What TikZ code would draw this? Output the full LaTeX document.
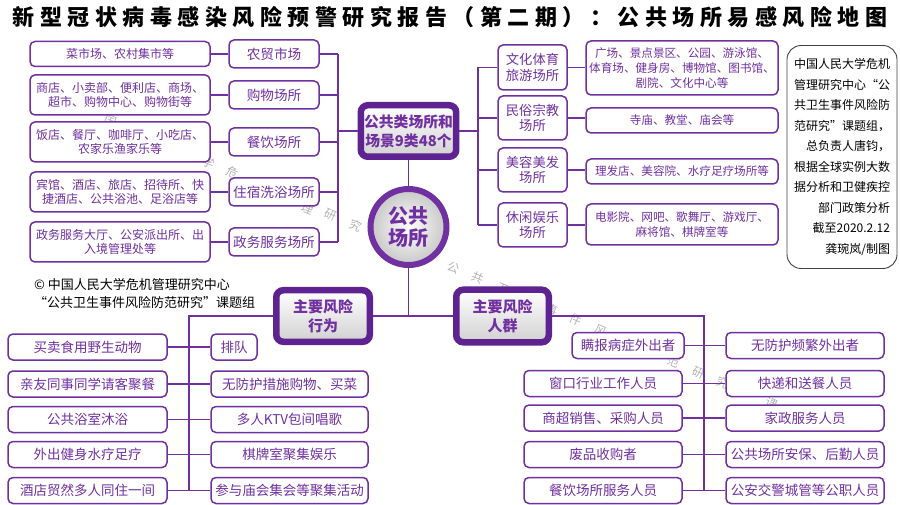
\documentclass[tikz,border=0pt]{standalone}
\usepackage{fontspec}
\setmainfont{Noto Sans CJK SC}
\newfontfamily\titlefont{Noto Sans CJK SC}[LetterSpace=25]
\usetikzlibrary{shadows}
\usetikzlibrary{backgrounds}
\definecolor{purp}{HTML}{7030A0}
\definecolor{purpdark}{HTML}{5E2390}

\begin{document}
\begin{tikzpicture}[x=1pt,y=-1pt,
	box/.style={draw=purp, line width=1.5pt, rounded corners=5pt, fill=white, text=purp, inner sep=1pt, align=center},
	detail/.style={box, font=\fontsize{12}{14.5}\selectfont},
	detailr/.style={box, font=\fontsize{11.6}{15}\selectfont},
	place/.style={box, font=\fontsize{13.6}{15.5}\selectfont},
	risk/.style={box, font=\fontsize{13.5}{15}\selectfont, minimum height=26},
	hubbox/.style={draw=purpdark, line width=6.5pt, rounded corners=7pt, top color=white, bottom color=black!18,
		text=purp, align=center, drop shadow={shadow xshift=2pt, shadow yshift=-2.5pt, opacity=0.35}},
	link/.style={purp, line width=1.5pt},
	wmark/.style={text=black!30, font=\fontsize{12}{12}\selectfont, rotate=-23, inner sep=0pt}
]
\useasboundingbox (0,0) rectangle (900,505);

\node (title) at (450,17.5) {\titlefont\bfseries\fontsize{22}{22}\selectfont 新型冠状病毒感染风险预警研究报告（第二期）：公共场所易感风险地图};

% upper left
\node[detail, minimum width=180, minimum height=25] (d1) at (120,54) {菜市场、农村集市等};
\node[detail, minimum width=180, minimum height=40] (d2) at (120,95) {商店、小卖部、便利店、商场、\\超市、购物中心、购物街等};
\node[detail, minimum width=180, minimum height=40] (d3) at (120,142) {饭店、餐厅、咖啡厅、小吃店、\\农家乐渔家乐等};
\node[detail, minimum width=180, minimum height=40] (d4) at (120,192) {宾馆、酒店、旅店、招待所、快\\捷酒店、公共浴池、足浴店等};
\node[detail, minimum width=180, minimum height=40] (d5) at (120,242) {政务服务大厅、公安派出所、出\\入境管理处等};
\node[place, minimum width=90, minimum height=28] (c1) at (274,54) {农贸市场};
\node[place, minimum width=90, minimum height=28] (c2) at (274,95) {购物场所};
\node[place, minimum width=90, minimum height=28] (c3) at (274,142) {餐饮场所};
\node[place, minimum width=90, minimum height=28] (c4) at (274,192) {住宿洗浴场所};
\node[place, minimum width=90, minimum height=28] (c5) at (274,242) {政务服务场所};

% centre
\node[hubbox, minimum width=94.5, minimum height=51.5, font=\bfseries\fontsize{14.8}{19}\selectfont] (hub) at (408.5,131) {公共类场所和\\场景9类48个};
\node[circle, draw=purp, line width=6pt, minimum size=76, inner color=white, outer color=black!22, text=purp, align=center,
	font=\bfseries\fontsize{20}{22}\selectfont, drop shadow={shadow xshift=2pt, shadow yshift=-2.5pt, opacity=0.3}] (circ) at (408.5,227) {公共\\场所};
\node[hubbox, minimum width=93.5, minimum height=51.5, font=\bfseries\fontsize{15}{19}\selectfont] (beh) at (323,316) {主要风险\\行为};
\node[hubbox, minimum width=92.5, minimum height=52.5, font=\bfseries\fontsize{15}{19}\selectfont] (grp) at (502.5,316) {主要风险\\人群};

% upper right
\node[place, font=\fontsize{13.3}{15.5}\selectfont, minimum width=69, minimum height=45] (c6) at (532.5,67.5) {文化体育\\旅游场所};
\node[place, font=\fontsize{13.3}{15.5}\selectfont, minimum width=69, minimum height=44] (c7) at (532.5,118) {民俗宗教\\场所};
\node[place, font=\fontsize{13.3}{15.5}\selectfont, minimum width=69, minimum height=44] (c8) at (532.5,170) {美容美发\\场所};
\node[place, font=\fontsize{13.3}{15.5}\selectfont, minimum width=69, minimum height=44] (c9) at (532.5,225) {休闲娱乐\\场所};
\node[detailr, minimum width=192, minimum height=54] (d6) at (682,68) {广场、景点景区、公园、游泳馆、\\体育场、健身房、博物馆、图书馆、\\剧院、文化中心等};
\node[detailr, minimum width=192, minimum height=25] (d7) at (682,120.5) {寺庙、教堂、庙会等};
\node[detailr, minimum width=192, minimum height=25] (d8) at (682,171.5) {理发店、美容院、水疗足疗场所等};
\node[detailr, minimum width=192, minimum height=41] (d9) at (682,224.5) {电影院、网吧、歌舞厅、游戏厅、\\麻将馆、棋牌室等};

% note
\node[draw=black!75, line width=0.9pt, rounded corners=14pt, minimum width=110, minimum height=223, text width=96, inner xsep=7pt,
	align=right, font=\fontsize{12}{20.5}\selectfont] (note) at (842,157)
	{中国人民大学危机\\管理研究中心“公\\共卫生事件风险防\\范研究”课题组，\\总负责人唐钧，\\根据全球实例大数\\据分析和卫健疾控\\部门政策分析\\截至2020.2.12\\龚琬岚/制图};

\node[anchor=west, align=left, font=\fontsize{13}{18}\selectfont, inner sep=0pt] (copy) at (34,294)
	{© 中国人民大学危机管理研究中心\\“公共卫生事件风险防范研究”课题组};

% main risk behaviours
\node[risk, minimum width=159] (l1) at (87.5,347) {买卖食用野生动物};
\node[risk, minimum width=159] (l2) at (87.5,384) {亲友同事同学请客聚餐};
\node[risk, minimum width=159] (l3) at (87.5,419.5) {公共浴室沐浴};
\node[risk, minimum width=159] (l4) at (87.5,454.5) {外出健身水疗足疗};
\node[risk, minimum width=159] (l5) at (87.5,490.5) {酒店贸然多人同住一间};
\node[risk, minimum width=46] (r1) at (234,347) {排队};
\node[risk, minimum width=157] (r2) at (289.5,384) {无防护措施购物、买菜};
\node[risk, minimum width=157] (r3) at (289.5,419.5) {多人KTV包间唱歌};
\node[risk, minimum width=157] (r4) at (289.5,454.5) {棋牌室聚集娱乐};
\node[risk, minimum width=157] (r5) at (289.5,490.5) {参与庙会集会等聚集活动};

% main risk groups
\node[risk, minimum width=112] (m1) at (628,345.5) {瞒报病症外出者};
\node[risk, minimum width=158] (m2) at (603,383.5) {窗口行业工作人员};
\node[risk, minimum width=158] (m3) at (603,418) {商超销售、采购人员};
\node[risk, minimum width=158] (m4) at (603,454.5) {废品收购者};
\node[risk, minimum width=158] (m5) at (603,490.5) {餐饮场所服务人员};
\node[risk, minimum width=158] (n1) at (805,345.5) {无防护频繁外出者};
\node[risk, minimum width=158] (n2) at (805,383.5) {快递和送餐人员};
\node[risk, minimum width=158] (n3) at (805,418) {家政服务人员};
\node[risk, minimum width=158] (n4) at (805,454.5) {公共场所安保、后勤人员};
\node[risk, minimum width=158] (n5) at (805,490.5) {公安交警城管等公职人员};

\coordinate (sL) at (338,0);
\coordinate (sR) at (478,0);
\coordinate (sB) at (189,0);
\coordinate (sG) at (704,0);

% watermark, only the characters left visible between the boxes
\begin{scope}[on background layer]
	\foreach \ch/\k in {国/1,学/5,危/6,研/10,究/11,公/15,共/16,卫/17,事/19,件/20,风/21,范/24,研/25,究/26,课/28}
		\node[wmark] (wm\k) at (86+24.5*\k,110+10.5*\k) {\ch};
	\node[wmark] (wm9) at (308,208.5) {理};
\end{scope}

\foreach \i in {1,...,5} {
	\draw[link] (d\i.east) -- (c\i.west);
	\draw[link] (c\i.east) -- (c\i.east -| sL);
	\draw[link] (l\i.east) -- (r\i.west);
	\draw[link] (m\i.east) -- (n\i.west);
}
\draw[link] (c1.east -| sL) -- (c5.east -| sL);
\draw[link] (hub.west) -- (hub.west -| sL);

\draw[link] (hub.east) -- (hub.east -| sR);
\draw[link] (sR |- c6.west) -- (sR |- c9.west);
\foreach \i in {6,...,9} {
	\draw[link] (sR |- c\i.west) -- (c\i.west);
	\draw[link] (c\i.east) -- (c\i.east -| d\i.west);
}

\draw[link] (hub.south) -- (circ.north);
\draw[link] (circ.south) -- (circ.south |- beh.east);
\draw[link] (beh.east) -- (grp.west);

\draw[link] (beh.west) -- (beh.west -| sB) -- (sB |- l5.east);
\draw[link] (grp.east) -- (grp.east -| sG) -- (sG |- m5.east);
\end{tikzpicture}
\end{document}
